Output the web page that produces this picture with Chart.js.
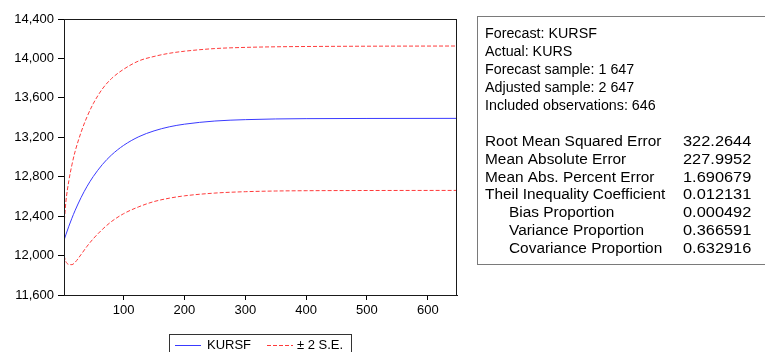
<!DOCTYPE html>
<html>
<head>
<meta charset="utf-8">
<script src="https://cdn.jsdelivr.net/npm/chart.js@4/dist/chart.umd.min.js"></script>
<style>
html,body{margin:0;padding:0;background:#fff;}
#wrap{position:relative;width:765px;height:352px;}
</style>
</head>
<body>
<div id="wrap"><canvas id="c"></canvas></div>
<script>
// observation index
const obs = [2, 5, 10, 15, 20, 30, 40, 50, 65, 80, 100, 125, 150, 175, 200, 250, 300, 350, 400, 500, 647];
// forecast KURSF
const kursf = [12154, 12210, 12298, 12379, 12454, 12588, 12703, 12801, 12923, 13020, 13118, 13206, 13265, 13306, 13333, 13365, 13379, 13386, 13389, 13391, 13392];
// +2 S.E. band
const upperSE = [12300, 12540, 12760, 12920, 13050, 13250, 13410, 13540, 13690, 13795, 13890, 13975, 14020, 14052, 14073, 14100, 14112, 14118, 14121, 14124, 14126];
// -2 S.E. band
const lowerSE = [12000, 11940, 11910, 11908, 11930, 12010, 12095, 12170, 12265, 12345, 12425, 12495, 12548, 12582, 12606, 12634, 12648, 12655, 12658, 12660, 12661];
const xTicks = [100, 200, 300, 400, 500, 600];
const legendLabels = ["KURSF", "\u00B1 2 S.E."];
const statHeader = ["Forecast: KURSF", "Actual: KURS", "Forecast sample: 1 647", "Adjusted sample: 2 647", "Included observations: 646"];
const statNames = ["Root Mean Squared Error", "Mean Absolute Error", "Mean Abs. Percent Error", "Theil Inequality Coefficient", "Bias Proportion", "Variance Proportion", "Covariance Proportion"];
const statValues = ["322.2644", "227.9952", "1.690679", "0.012131", "0.000492", "0.366591", "0.632916"];
const statIndent = [false, false, false, false, true, true, true];

const BLUE = '#3a3aff';
const RED = '#ff3b3b';
const FONT = '"Liberation Sans", Arial, sans-serif';

function pts(vals){ return obs.map((x,i)=>({x:x, y:vals[i]})); }

const framePlugin = {
  id: 'frame',
  afterDraw(chart){
    const ctx = chart.ctx, a = chart.chartArea;
    ctx.save();
    ctx.strokeStyle = '#1a1a1a';
    ctx.lineWidth = 1;
    ctx.strokeRect(Math.round(a.left)+0.5, Math.round(a.top)+0.5, Math.round(a.right-a.left)-1, Math.round(a.bottom-a.top));
    ctx.restore();

    // stats box
    ctx.save();
    ctx.strokeStyle = '#7a7a7a';
    ctx.lineWidth = 1;
    ctx.strokeRect(477.5, 16.5, 300, 248);
    ctx.fillStyle = '#000';
    ctx.font = '14px ' + FONT;
    ctx.textBaseline = 'middle';
    const y0 = 34.5, dy = 17.9;
    function txt(s, x, y, sx){ ctx.save(); ctx.translate(x, y); ctx.scale(sx,1); ctx.fillText(s,0,0); ctx.restore(); }
    statHeader.forEach((s,i)=> txt(s, 485, y0 + dy*i, 1.02));
    statNames.forEach((s,i)=>{
      const y = y0 + dy*(i+6);
      txt(s, statIndent[i] ? 509 : 485, y, 1.1);
      txt(statValues[i], 683, y, 1.17);
    });
    ctx.restore();

    // legend box
    ctx.save();
    ctx.strokeStyle = '#333';
    ctx.lineWidth = 1;
    ctx.strokeRect(169.5, 334.5, 182, 22);
    ctx.font = '13px ' + FONT;
    ctx.textBaseline = 'middle';
    ctx.fillStyle = '#000';
    const ly = 345.5;
    const ds = chart.data.datasets;
    ctx.strokeStyle = ds[0].borderColor;
    ctx.beginPath(); ctx.moveTo(175, ly); ctx.lineTo(201, ly); ctx.stroke();
    ctx.fillText(legendLabels[0], 207, ly);
    ctx.strokeStyle = ds[1].borderColor;
    ctx.setLineDash(ds[1].borderDash);
    ctx.beginPath(); ctx.moveTo(267, ly); ctx.lineTo(293, ly); ctx.stroke();
    ctx.setLineDash([]);
    ctx.fillText(legendLabels[1], 297, ly);
    ctx.restore();
  }
};

new Chart(document.getElementById('c'), {
  type: 'line',
  data: {
    datasets: [
      {label: legendLabels[0], data: pts(kursf), borderColor: BLUE, borderWidth: 1, pointRadius: 0, cubicInterpolationMode: 'monotone', fill: false},
      {label: legendLabels[1], data: pts(upperSE), borderColor: RED, borderWidth: 1, borderDash: [4,2], pointRadius: 0, cubicInterpolationMode: 'monotone', fill: false},
      {label: legendLabels[1], data: pts(lowerSE), borderColor: RED, borderWidth: 1, borderDash: [4,2], pointRadius: 0, cubicInterpolationMode: 'monotone', fill: false}
    ]
  },
  options: {
    responsive: true,
    maintainAspectRatio: false,
    animation: false,
    devicePixelRatio: 1,
    layout: {padding: {left: 0, right: 308, top: 19, bottom: 0}},
    plugins: {legend: {display: false}, tooltip: {enabled: false}},
    scales: {
      x: {
        type: 'linear', min: 2, max: 648,
        afterBuildTicks: s => { s.ticks = xTicks.map(v => ({value: v})); },
        afterFit: s => { s.height = 57; },
        grid: {drawOnChartArea: false, drawTicks: true, tickLength: 5, color: '#000'},
        border: {color: '#1a1a1a'},
        ticks: {color: '#000', padding: 3, font: {family: FONT, size: 13}, maxRotation: 0, callback: v => String(v)}
      },
      y: {
        min: 11600, max: 14400,
        afterFit: s => { s.width = 64; },
        grid: {drawOnChartArea: false, drawTicks: true, tickLength: 6, color: '#000'},
        border: {color: '#1a1a1a'},
        ticks: {stepSize: 400, color: '#000', padding: 4, font: {family: FONT, size: 13}, callback: v => v.toLocaleString('en-US')}
      }
    }
  },
  plugins: [framePlugin]
});
</script>
</body>
</html>
